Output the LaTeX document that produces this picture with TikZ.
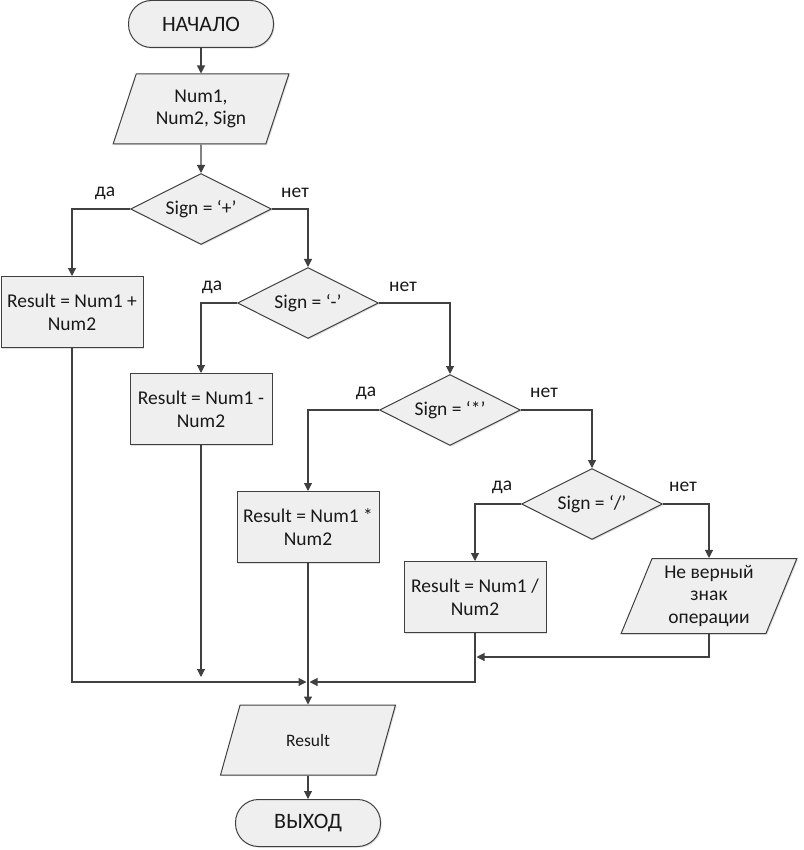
\documentclass[tikz,border=0pt]{standalone}
\usepackage{fontspec}
\setmainfont{Carlito}
\usetikzlibrary{shapes.geometric,positioning,arrows.meta,shadows,calc}
\definecolor{edgegray}{HTML}{404040}
\definecolor{boxfill}{HTML}{EFEFEF}

\begin{document}
\begin{tikzpicture}[on grid,auto,
  base/.style={draw=edgegray,line width=1pt,fill=boxfill,text=black!90,
    drop shadow={shadow xshift=1.2pt,shadow yshift=-1.2pt,opacity=.25}},
  term/.style={base,rectangle,rounded corners=23pt,minimum width=145pt,minimum height=47pt,font=\fontsize{22}{26}\selectfont},
  io/.style={base,trapezium,trapezium left angle=69,trapezium right angle=111,trapezium stretches=true,
    minimum width=176pt,minimum height=70pt,align=center,font=\fontsize{19.5}{22.5}\selectfont},
  decide/.style={base,diamond,aspect=2,inner sep=0pt,minimum width=141pt,minimum height=71pt,font=\fontsize{19.5}{23}\selectfont},
  proc/.style={base,rectangle,minimum width=142pt,minimum height=71pt,inner sep=2pt,align=center,font=\fontsize{19.5}{23}\selectfont},
  lbl/.style={text=black!90,font=\fontsize{19.5}{23}\selectfont},
  flow/.style={draw=edgegray,line width=1.1pt,-{Triangle[length=8pt,width=8pt]}}]
\useasboundingbox (0,0) rectangle (803pt,-850pt);
        \node[term] (start) at (201pt,-24pt) {НАЧАЛО};
        \node[io] (inp) [below=85pt of start] {Num1,\\Num2, Sign};
        \node[decide] (d1) [below=100pt of inp] {Sign = ‘+’};
        \node[proc] (box1) [below left=103pt and 129pt of d1] {Result = Num1 +\\Num2};
        \node[decide] (d2) [below right=94pt and 107pt of d1] {Sign = ‘-’};
        \node[proc] (box2) [below left=106pt and 107pt of d2] {Result = Num1 -\\Num2};
        \node[decide] (d3) [below right=107pt and 142pt of d2] {Sign = ‘*’};
        \node[proc] (box3) [below left=117pt and 142pt of d3] {Result = Num1 *\\Num2};
        \node[decide] (d4) [below right=94pt and 142pt of d3] {Sign = ‘/’};
        \node[proc] (box4) [below left=93pt and 117pt of d4] {Result = Num1 /\\Num2};
        \node[io,minimum height=75pt] (err) [below right=92pt and 117pt of d4] {Не верный\\знак\\операции};
        \node[io,font=\fontsize{17.5}{21}\selectfont] (res) [below=213pt of box3] {Result};
        \node[term] (stop) [below=83pt of res] {ВЫХОД};
        % yes / no labels
        \node[lbl] (y1) at ($(d1.west)+(-25pt,16pt)$) {да};
        \node[lbl] (n1) at ($(d1.east)+(23pt,16pt)$) {нет};
        \node[lbl] (y2) at ($(d2.west)+(-25pt,16pt)$) {да};
        \node[lbl] (n2) at ($(d2.east)+(24pt,16pt)$) {нет};
        \node[lbl] (y3) at ($(d3.west)+(-13pt,17pt)$) {да};
        \node[lbl] (n3) at ($(d3.east)+(23pt,17pt)$) {нет};
        \node[lbl] (y4) at ($(d4.west)+(-19pt,17pt)$) {да};
        \node[lbl] (n4) at ($(d4.east)+(20pt,17pt)$) {нет};
        % joins
        \coordinate[below=155pt of box3] (jn);
        \coordinate[below=60pt of box4] (j4);
        \coordinate[below=268pt of box2] (e2);
        \draw[flow] (start) -- (inp);
        \draw[flow] (inp) -- (d1);
        \draw[flow] (d1.west) -| (box1);
        \draw[flow] (d1.east) -| (d2);
        \draw[flow] (d2.west) -| (box2);
        \draw[flow] (d2.east) -| (d3);
        \draw[flow] (d3.west) -| (box3);
        \draw[flow] (d3.east) -| (d4);
        \draw[flow] (d4.west) -| (box4);
        \draw[flow] (d4.east) -| (err);
        \draw[flow] (box2) -- (e2);
        \draw[flow,shorten >=1.5pt] (box1) |- (jn);
        \draw[flow,shorten >=1.5pt] (box4) |- (jn);
        \draw[flow,shorten >=1.5pt] (err) |- (j4);
        \draw[flow] (box3) -- (res);
        \draw[flow] (res) -- (stop);
    \end{tikzpicture}
\end{document}
